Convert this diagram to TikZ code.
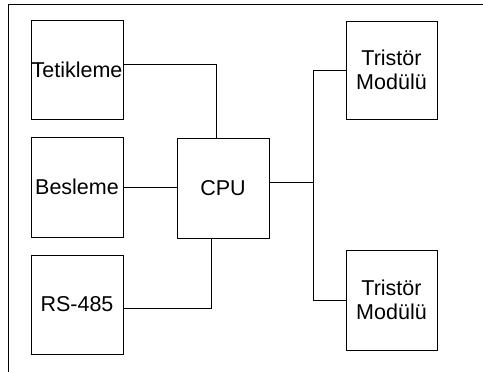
\documentclass[tikz,border=0pt]{standalone}
\usepackage{fontspec}
\setmainfont{Liberation Sans}
\begin{document}
\begin{tikzpicture}[x=1pt,y=-1pt,line width=1pt,
  blk/.style={draw, minimum width=92pt, minimum height=99pt, inner sep=0pt,
    font=\fontsize{21.5}{24}\selectfont, align=center},
  wire/.style={draw, line width=1pt}]
\useasboundingbox (0,0) rectangle (483,372);
\draw (8,372) -- (8,4) -- (483,4);
\node[blk] (tet) at (77,69.5) {Tetikleme};
\node[blk, minimum height=100pt] (bes) at (77,187) {Besleme};
\node[blk] (rs) at (77,304.5) {RS-485};
\node[blk, minimum height=100pt] (cpu) at (223,188) {CPU};
\node[blk, minimum width=91pt, minimum height=98pt] (tr1) at (391.5,70) {Tristör\\Modülü};
\node[blk, minimum width=91pt, minimum height=100pt] (tr2) at (391.5,300) {Tristör\\Modülü};
\draw[wire] ([yshift=5.5pt]tet.east) -| ([xshift=-7pt]cpu.north);
\draw[wire] (bes.east) -- (bes.east -| cpu.west);
\draw[wire] ([yshift=-3.5pt]rs.east) -| ([xshift=-12pt]cpu.south);
\draw[wire] ([yshift=6pt]cpu.east) -- ++(44pt,0) coordinate (bus);
\draw[wire] (tr1.west) -| (bus) |- (tr2.west);
\end{tikzpicture}
\end{document}
